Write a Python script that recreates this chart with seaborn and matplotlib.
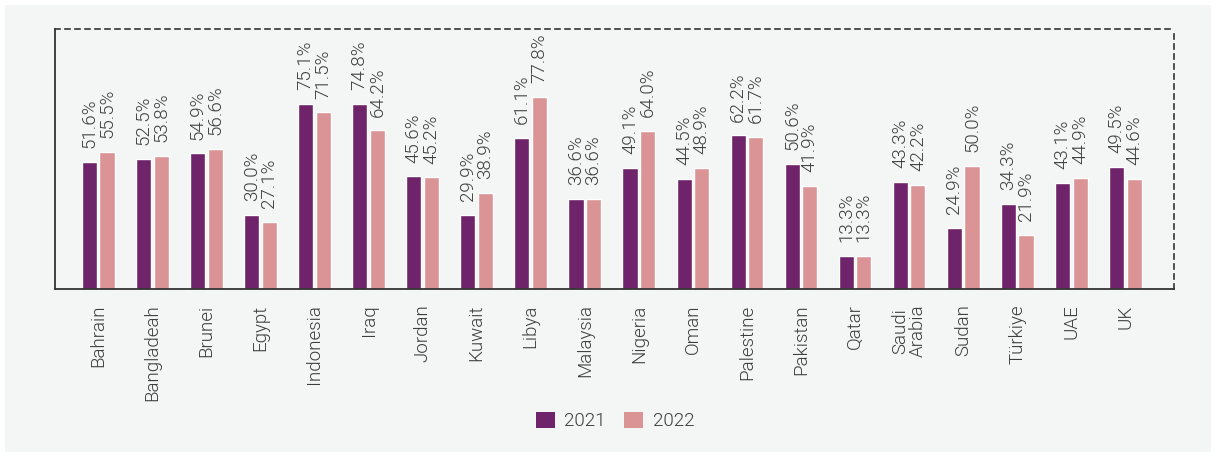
import pandas as pd
import seaborn as sns
import matplotlib
from matplotlib import pyplot as plt
from matplotlib.patches import Rectangle

countries = ["Bahrain", "Bangladeah", "Brunei", "Egypt", "Indonesia", "Iraq", "Jordan",
             "Kuwait", "Libya", "Malaysia", "Nigeria", "Oman", "Palestine", "Pakistan",
             "Qatar", "Saudi\nArabia", "Sudan", "Türkiye", "UAE", "UK"]
vals_2021 = [51.6, 52.5, 54.9, 30.0, 75.1, 74.8, 45.6, 29.9, 61.1, 36.6,
             49.1, 44.5, 62.2, 50.6, 13.3, 43.3, 24.9, 34.3, 43.1, 49.5]
vals_2022 = [55.5, 53.8, 56.6, 27.1, 71.5, 64.2, 45.2, 38.9, 77.8, 36.6,
             64.0, 48.9, 61.7, 41.9, 13.3, 42.2, 50.0, 21.9, 44.9, 44.6]
years = ["2021", "2022"]
colors = ["#6e236a", "#db9496"]

df = pd.DataFrame({
    "country": countries * 2,
    "year": [years[0]] * len(countries) + [years[1]] * len(countries),
    "value": vals_2021 + vals_2022,
})

sns.set_theme(style="white")
plt.rcParams['font.family'] = ['Roboto', 'DejaVu Sans']
plt.rcParams['font.weight'] = 300
txt = "#3c3c3c"
bg = "#f4f5f5"

fig = plt.figure(figsize=(12.16, 4.57), dpi=100, facecolor="white")
fig.patches.append(Rectangle((5 / 1216, 5 / 457), 1 - 10 / 1216, 1 - 10 / 457,
                             transform=fig.transFigure, facecolor=bg, edgecolor="none", zorder=-1))
ax = fig.add_axes([55 / 1216, 1 - 289 / 457, (1174 - 55) / 1216, (289 - 29) / 457])
ax.set_facecolor(bg)

sns.barplot(data=df, x="country", y="value", hue="year", palette=colors,
            width=0.65, gap=0.14, saturation=1, ax=ax, legend=True)

for c in ax.containers:
    ax.bar_label(c, labels=[f"{v:.1f}%" for v in c.datavalues], rotation=90,
                 padding=10, fontsize=13.5, color=txt)

ax.set_ylim(0, 105.3)
ax.set_xlim(-0.8, 19.9)
ax.set_yticks([])
ax.set_xlabel("")
ax.set_ylabel("")
ax.tick_params(axis="x", length=0, pad=11, labelsize=13.5, labelcolor=txt)
plt.setp(ax.get_xticklabels(), rotation=90, ha="center", va="top", linespacing=1.0)

for s in ["left", "bottom"]:
    ax.spines[s].set_color("#333333")
    ax.spines[s].set_linewidth(1.3)
for s in ["top", "right"]:
    ax.spines[s].set_color("#333333")
    ax.spines[s].set_linewidth(1.2)
    ax.spines[s].set_linestyle((0, (3, 3)))

ax.legend_.remove()
handles = [Rectangle((0, 0), 1, 1, facecolor=c, edgecolor="none") for c in colors]
leg = fig.legend(handles, years, loc="center", bbox_to_anchor=(615 / 1216, 36 / 457),
                 ncol=2, frameon=False, fontsize=13.5, handlelength=1.0, handleheight=1.0,
                 handletextpad=0.5, columnspacing=1.0)
for t in leg.get_texts():
    t.set_color(txt)

fig.savefig("out.png", dpi=100, facecolor="white")
